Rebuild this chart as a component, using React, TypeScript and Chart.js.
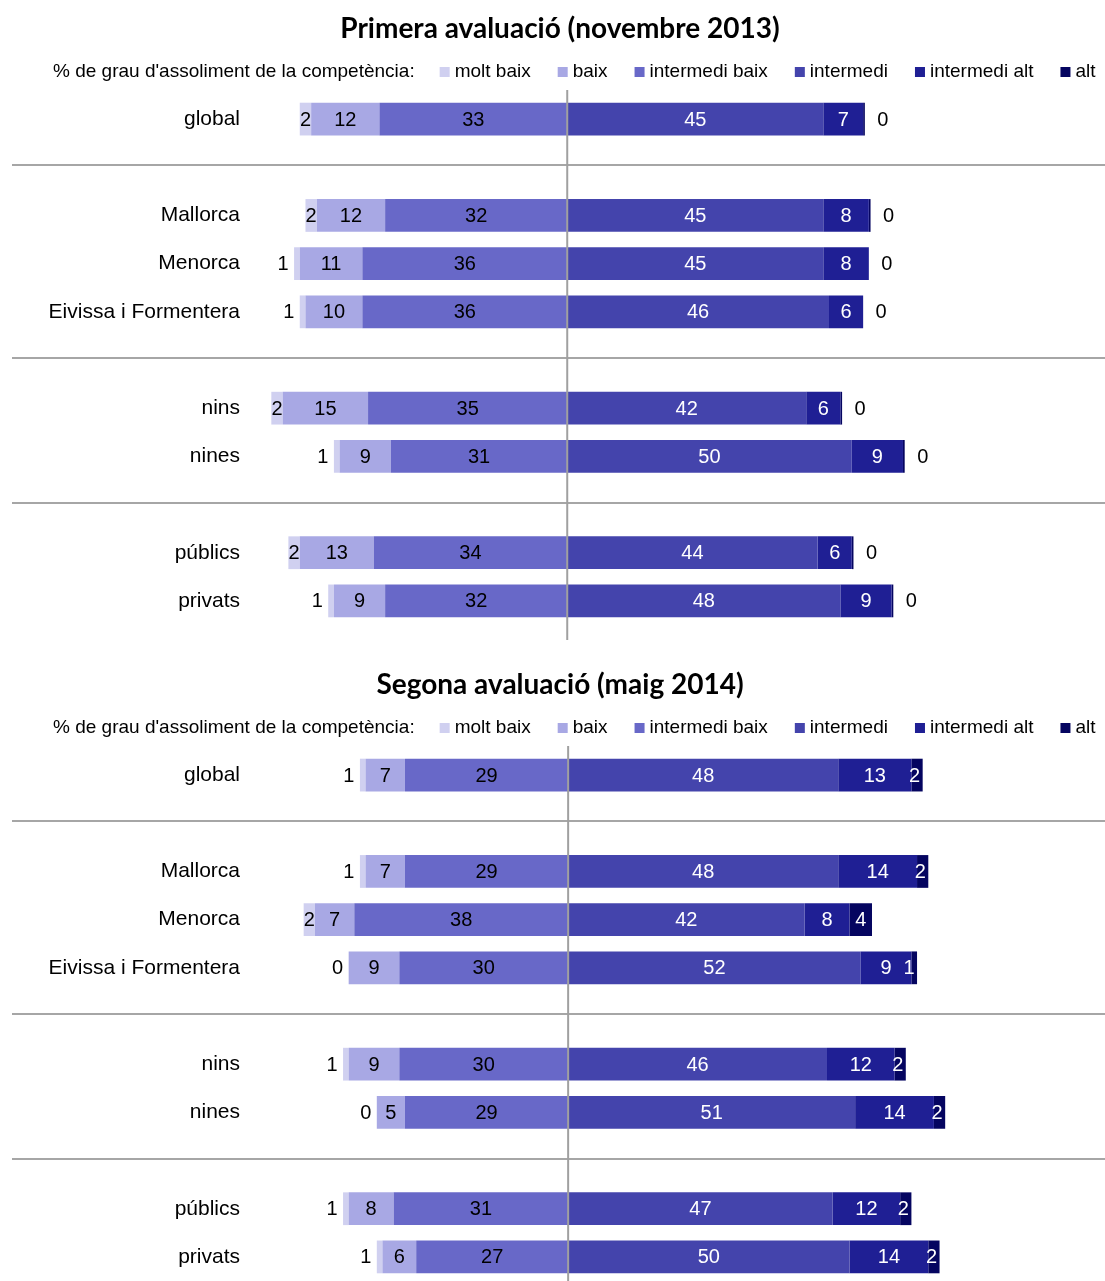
import React, { useEffect, useRef } from 'react';
import { Chart, registerables } from 'chart.js';

Chart.register(...registerables);

const CATEGORIES = ['global', '', 'Mallorca', 'Menorca', 'Eivissa i Formentera', '', 'nins', 'nines', '', 'públics', 'privats'];
const LEGEND_PREFIX = "% de grau d'assoliment de la competència:";
const LEGEND_LABELS = ['molt baix', 'baix', 'intermedi baix', 'intermedi', 'intermedi alt', 'alt'];
const COLORS = ['#d0d0f0', '#a8a8e4', '#6868c8', '#4444ac', '#1f1f94', '#050560'];

const TITLE_1 = 'Primera avaluació (novembre 2013)';
const MOLT_BAIX_1 = [2, null, 2, 1, 1, null, 2, 1, null, 2, 1];
const BAIX_1 = [12, null, 12, 11, 10, null, 15, 9, null, 13, 9];
const INT_BAIX_1 = [33, null, 32, 36, 36, null, 35, 31, null, 34, 32];
const INTERMEDI_1 = [45, null, 45, 45, 46, null, 42, 50, null, 44, 48];
const INT_ALT_1 = [7, null, 8, 8, 6, null, 6, 9, null, 6, 9];
const ALT_1 = [0.3, null, 0.3, 0, 0, null, 0.3, 0.3, null, 0.3, 0.3];

const TITLE_2 = 'Segona avaluació (maig 2014)';
const MOLT_BAIX_2 = [1, null, 1, 2, 0, null, 1, 0, null, 1, 1];
const BAIX_2 = [7, null, 7, 7, 9, null, 9, 5, null, 8, 6];
const INT_BAIX_2 = [29, null, 29, 38, 30, null, 30, 29, null, 31, 27];
const INTERMEDI_2 = [48, null, 48, 42, 52, null, 46, 51, null, 47, 50];
const INT_ALT_2 = [13, null, 14, 8, 9, null, 12, 14, null, 12, 14];
const ALT_2 = [2, null, 2, 4, 1, null, 2, 2, null, 2, 2];

type Series = (number | null)[];

function buildChart(canvas: HTMLCanvasElement, title: string, s: Series[], xMin: number, xMax: number) {
  const [moltBaix, baix, intBaix, intermedi, intAlt, alt] = s;
  const neg = (a: Series) => a.map((v) => (v == null ? null : -v));
  const ds = (kind: number, data: Series) => ({
    label: LEGEND_LABELS[kind],
    kind,
    raw: s[kind],
    data,
    backgroundColor: COLORS[kind],
    borderWidth: 0,
    stack: 's',
    categoryPercentage: 1,
    barPercentage: 0.68,
  });
  const datasets: any[] = [
    ds(2, neg(intBaix)),
    ds(1, neg(baix)),
    ds(0, neg(moltBaix)),
    ds(3, intermedi),
    ds(4, intAlt),
    ds(5, alt),
  ];

  const decor = {
    id: 'decor',
    afterDatasetsDraw(chart: any) {
      const ctx = chart.ctx as CanvasRenderingContext2D;
      const { chartArea, scales } = chart;
      const xs = scales.x;
      const ys = scales.y;
      const W = chart.width;
      ctx.save();
      // separators
      ctx.strokeStyle = '#a6a6a6';
      ctx.lineWidth = 2;
      CATEGORIES.forEach((c, i) => {
        if (c === '') {
          const y = Math.round(ys.getPixelForValue(i)) - 2;
          ctx.beginPath();
          ctx.moveTo(12, y);
          ctx.lineTo(W, y);
          ctx.stroke();
        }
      });
      // center line
      const x0 = xs.getPixelForValue(0);
      ctx.strokeStyle = '#a0a0a0';
      ctx.lineWidth = 2;
      ctx.beginPath();
      ctx.moveTo(x0, chartArea.top - 5);
      ctx.lineTo(x0, chartArea.bottom + 15);
      ctx.stroke();

      // data labels
      ctx.font = '20px "Liberation Sans", Arial, sans-serif';
      ctx.textAlign = 'center';
      ctx.textBaseline = 'middle';
      chart.data.datasets.forEach((d: any, di: number) => {
        const meta = chart.getDatasetMeta(di);
        meta.data.forEach((el: any, i: number) => {
          const v = d.raw[i];
          if (v == null) return;
          let left = Math.min(el.x, el.base);
          let right = Math.max(el.x, el.base);
          if (d.kind === 5) {
            right = xs.getPixelForValue((intermedi[i] as number) + (intAlt[i] as number) + v);
            left = xs.getPixelForValue((intermedi[i] as number) + (intAlt[i] as number));
          }
          const w = right - left;
          let cx = (left + right) / 2;
          let color = d.kind >= 3 ? '#ffffff' : '#000000';
          const txt = String(Math.round(v));
          if (d.kind === 0 && v < 2) {
            cx = left - 11;
          } else if (d.kind === 5) {
            if (Math.round(v) === 0) {
              cx = right + 18;
              color = '#000000';
            } else if (w < 20) {
              cx = right - 8;
            }
          }
          ctx.fillStyle = color;
          ctx.fillText(txt, cx, el.y + 1);
        });
      });

      // title
      ctx.fillStyle = '#000000';
      ctx.font = 'bold 28px Lato, "Open Sans", sans-serif';
      ctx.textAlign = 'center';
      ctx.fillText(title, 560, 29);

      // legend
      ctx.font = '19px "Liberation Sans", Arial, sans-serif';
      ctx.textAlign = 'left';
      let x = 53;
      const ly = 72;
      ctx.fillText(LEGEND_PREFIX, x, ly);
      x += ctx.measureText(LEGEND_PREFIX).width + 25;
      LEGEND_LABELS.forEach((lab, k) => {
        ctx.fillStyle = COLORS[k];
        ctx.fillRect(x, ly - 5, 10, 10);
        x += 15;
        ctx.fillStyle = '#000000';
        ctx.fillText(lab, x, ly);
        x += ctx.measureText(lab).width + 27;
      });
      ctx.restore();
    },
  };

  return new Chart(canvas, {
    type: 'bar',
    data: { labels: CATEGORIES, datasets },
    options: {
      indexAxis: 'y',
      animation: false,
      responsive: false,
      maintainAspectRatio: false,
      layout: { padding: { top: 95, bottom: 31, left: 0, right: 0 } },
      plugins: { legend: { display: false }, title: { display: false }, tooltip: { enabled: false } },
      scales: {
        x: { display: false, stacked: true, min: xMin, max: xMax },
        y: {
          stacked: true,
          grid: { display: false, drawTicks: false },
          border: { display: false },
          ticks: {
            color: '#000000',
            padding: 4,
            font: { family: '"Liberation Sans", Arial, sans-serif', size: 21 },
          },
          afterFit: (scale: any) => {
            scale.width = 244;
          },
        },
      },
    },
    plugins: [decor],
  } as any);
}

function Panel(props: { title: string; series: Series[]; xMin: number; xMax: number }) {
  const ref = useRef<HTMLCanvasElement | null>(null);
  useEffect(() => {
    if (!ref.current) return;
    const c = buildChart(ref.current, props.title, props.series, props.xMin, props.xMax);
    return () => c.destroy();
  }, []);
  return <canvas ref={ref} width={1105} height={656} style={{ display: 'block', width: 1105, height: 656 }} />;
}

export default function App() {
  useEffect(() => {
    document.body.style.margin = '0';
    document.body.style.overflow = 'hidden';
  }, []);
  return (
    <div style={{ width: 1105, height: 1281, overflow: 'hidden', background: '#ffffff' }}>
      <Panel title={TITLE_1} series={[MOLT_BAIX_1, BAIX_1, INT_BAIX_1, INTERMEDI_1, INT_ALT_1, ALT_1]} xMin={-56.8} xMax={94.5} />
      <Panel title={TITLE_2} series={[MOLT_BAIX_2, BAIX_2, INT_BAIX_2, INTERMEDI_2, INT_ALT_2, ALT_2]} xMin={-57.6} xMax={95.4} />
    </div>
  );
}
